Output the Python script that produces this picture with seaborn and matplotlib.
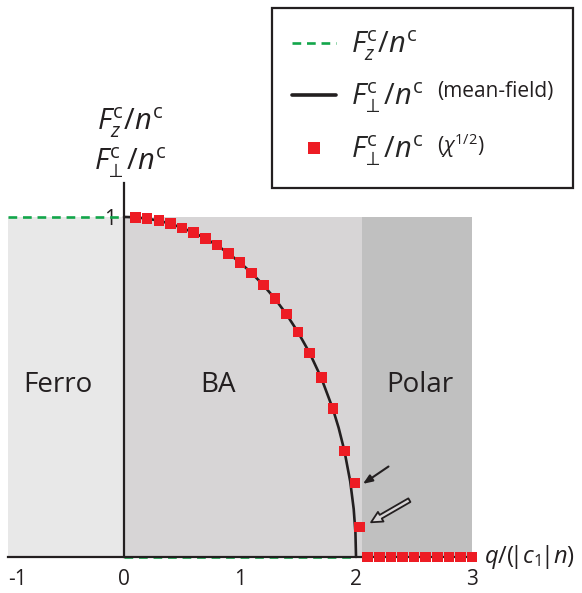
import matplotlib
matplotlib.use("Agg")
import matplotlib.pyplot as plt
import seaborn as sns
import pandas as pd
from matplotlib.lines import Line2D
from matplotlib.ticker import FixedLocator, FixedFormatter

# ---------------- data ----------------
regions = ["Ferro", "BA", "Polar"]
region_start = [-1.0, 0.0, 2.05]
region_end = [0.0, 2.05, 3.0]
region_top = [1.0, 1.0, 1.0]
region_colors = ["#e8e8e8", "#d7d5d6", "#c0c0c0"]

# mean-field transverse curve F_perp/n
mf_q = [0.0, 0.1, 0.2, 0.3, 0.4, 0.5, 0.6, 0.7, 0.8, 0.9, 1.0, 1.1, 1.2, 1.3,
        1.4, 1.5, 1.6, 1.7, 1.8, 1.85, 1.9, 1.95, 1.98, 1.995, 2.0]
mf_F = [1.0, 0.999, 0.995, 0.989, 0.980, 0.968, 0.954, 0.937, 0.917, 0.893,
        0.866, 0.835, 0.800, 0.760, 0.714, 0.661, 0.600, 0.527, 0.436, 0.380,
        0.312, 0.222, 0.141, 0.071, 0.0]

# chi^(1/2) transverse points
chi_q = [0.1, 0.2, 0.3, 0.4, 0.5, 0.6, 0.7, 0.8, 0.9, 1.0, 1.1, 1.2, 1.3, 1.4,
         1.5, 1.6, 1.7, 1.8, 1.9, 1.99, 2.03,
         2.1, 2.2, 2.3, 2.4, 2.5, 2.6, 2.7, 2.8, 2.9, 3.0]
chi_F = [0.999, 0.995, 0.989, 0.980, 0.968, 0.954, 0.937, 0.917, 0.893, 0.866,
         0.835, 0.800, 0.760, 0.714, 0.661, 0.600, 0.527, 0.436, 0.312, 0.218,
         0.088,
         0.0, 0.0, 0.0, 0.0, 0.0, 0.0, 0.0, 0.0, 0.0, 0.0]

# longitudinal F_z/n
fz_ferro_q = [-1.0, 0.0]
fz_ferro_F = [1.0, 1.0]
fz_ba_q = [0.0, 2.0]
fz_ba_F = [0.0, 0.0]

x_ticks = [-1, 0, 1, 2, 3]
x_ticklabels = ["-1", "0", "1", "2", "3"]
y_major = [0.2, 0.4, 0.6, 0.8, 1.0]
y_major_labels = ["", "", "", "", "1"]
y_minor = [0.1, 0.3, 0.5, 0.7, 0.9, 1.1]

# ---------------- style ----------------
sns.set_style("white")
plt.rcParams["font.family"] = ["Open Sans", "DejaVu Sans"]
plt.rcParams["mathtext.fontset"] = "custom"
plt.rcParams["mathtext.rm"] = "Open Sans"
plt.rcParams["mathtext.it"] = "Open Sans:italic"
plt.rcParams["mathtext.bf"] = "Open Sans:bold"
plt.rcParams["mathtext.sf"] = "Open Sans"
plt.rcParams["mathtext.fallback"] = "stixsans"

RED = "#ed1c24"
GREEN = "#12a64a"
AXC = "#231f20"

FZ = r"$F_z^{\rm c}/n^{\rm c}$"
FP = r"$F_{\!\perp}^{\rm c}/n^{\rm c}$"

fig = plt.figure(figsize=(5.82, 5.93), dpi=100)
ax = fig.add_axes([0, 0, 1, 1])
ax.set_facecolor("none")
ax.set_xlim(-1.069, 3.948)
ax.set_ylim(-0.106, 1.638)

# shaded phase regions
for s, e, t, c in zip(region_start, region_end, region_top, region_colors):
    ax.fill_between([s, e], [0, 0], [t, t], color=c, lw=0, zorder=0)

label_x = [-0.57, 0.81, 2.55]
for name, lx in zip(regions, label_x):
    ax.text(lx, 0.505, name, fontsize=20, ha="center", va="center", color=AXC, zorder=3)

# lines
df_mf = pd.DataFrame({"q": mf_q, "F": mf_F})
sns.lineplot(data=df_mf, x="q", y="F", color=AXC, lw=1.9, sort=False,
             estimator=None, ax=ax, zorder=4)
for qq, ff in [(fz_ferro_q, fz_ferro_F), (fz_ba_q, fz_ba_F)]:
    d = pd.DataFrame({"q": qq, "F": ff})
    sns.lineplot(data=d, x="q", y="F", color=GREEN, lw=1.9, estimator=None,
                 ax=ax, zorder=5, dashes=False, linestyle=(0, (3.3, 2.2)))

df_chi = pd.DataFrame({"q": chi_q, "F": chi_F})
sns.scatterplot(data=df_chi, x="q", y="F", marker="s", s=58, color=RED,
                edgecolor="none", linewidth=0, ax=ax, zorder=6, clip_on=False)

# arrows
ax.annotate("", xy=(2.06, 0.215), xytext=(2.28, 0.266),
            arrowprops=dict(arrowstyle="-|>,head_length=0.55,head_width=0.22",
                            color=AXC, lw=1.5, shrinkA=0, shrinkB=0), zorder=7)
ax.annotate("", xy=(2.13, 0.102), xytext=(2.46, 0.167),
            arrowprops=dict(arrowstyle="simple,head_length=0.8,head_width=0.8,tail_width=0.3",
                            fc="#d7d5d6", ec=AXC, lw=1.3, shrinkA=0, shrinkB=0), zorder=7)

# axes / spines
for sp in ["top", "right"]:
    ax.spines[sp].set_visible(False)
ax.spines["left"].set_position(("data", 0))
ax.spines["bottom"].set_position(("data", 0))
ax.spines["left"].set_bounds(0, 1.1)
ax.spines["bottom"].set_bounds(-1, 3)
for sp in ["left", "bottom"]:
    ax.spines[sp].set_color(AXC)
    ax.spines[sp].set_linewidth(1.6)
    ax.spines[sp].set_zorder(5)

ax.set_xticks(x_ticks)
ax.set_xticklabels(x_ticklabels)
ax.tick_params(axis="x", direction="in", length=4, width=1.2, color=AXC,
               labelsize=15, pad=9, labelcolor=AXC)
ax.get_xticklabels()[0].set_horizontalalignment("left")
ax.yaxis.set_major_locator(FixedLocator(y_major))
ax.yaxis.set_major_formatter(FixedFormatter(y_major_labels))
ax.yaxis.set_minor_locator(FixedLocator(y_minor))
ax.tick_params(axis="y", which="major", direction="out", length=5.5, width=1.2,
               color=AXC, labelsize=15, pad=0, labelcolor=AXC)
ax.tick_params(axis="y", which="minor", direction="out", length=3, width=1.2, color=AXC)
ax.set_xlabel("")
ax.set_ylabel("")

ax.text(3.1, 0.0, r"$q/(\!|c_1\!|n)$", fontsize=17, ha="left", va="center", color=AXC)
fig.text(130 / 582, 1 - 123 / 593, FZ, fontsize=21,
         ha="center", va="center", color=AXC)
fig.text(130 / 582, 1 - 163 / 593, FP, fontsize=21,
         ha="center", va="center", color=AXC)

# legend
handles = [
    Line2D([], [], color=GREEN, lw=1.9, linestyle=(0, (3.3, 2.2))),
    Line2D([], [], color=AXC, lw=2.6),
    Line2D([], [], color=RED, marker="s", ms=8.0, lw=0, markeredgewidth=0),
]
labels = [FZ, FP, FP]
leg = fig.legend(handles, labels, loc="upper left",
                 bbox_to_anchor=(272 / 582, 1 - 190 / 593, 301 / 582, 182 / 593),
                 mode="expand", borderaxespad=0, frameon=True, fancybox=False,
                 edgecolor=AXC, framealpha=1, fontsize=21, handlelength=1.5,
                 handletextpad=0.5, labelspacing=0.62, borderpad=0.7)
leg.get_frame().set_linewidth(1.6)
fig.text(437 / 582, 1 - 92 / 593, "(mean-field)", fontsize=15, ha="left",
         va="center", color=AXC, zorder=10)
fig.text(437 / 582, 1 - 146 / 593, r"$(\chi^{1/2})$", fontsize=15, ha="left",
         va="center", color=AXC, zorder=10)

fig.savefig("out.png", dpi=100, facecolor="white")
